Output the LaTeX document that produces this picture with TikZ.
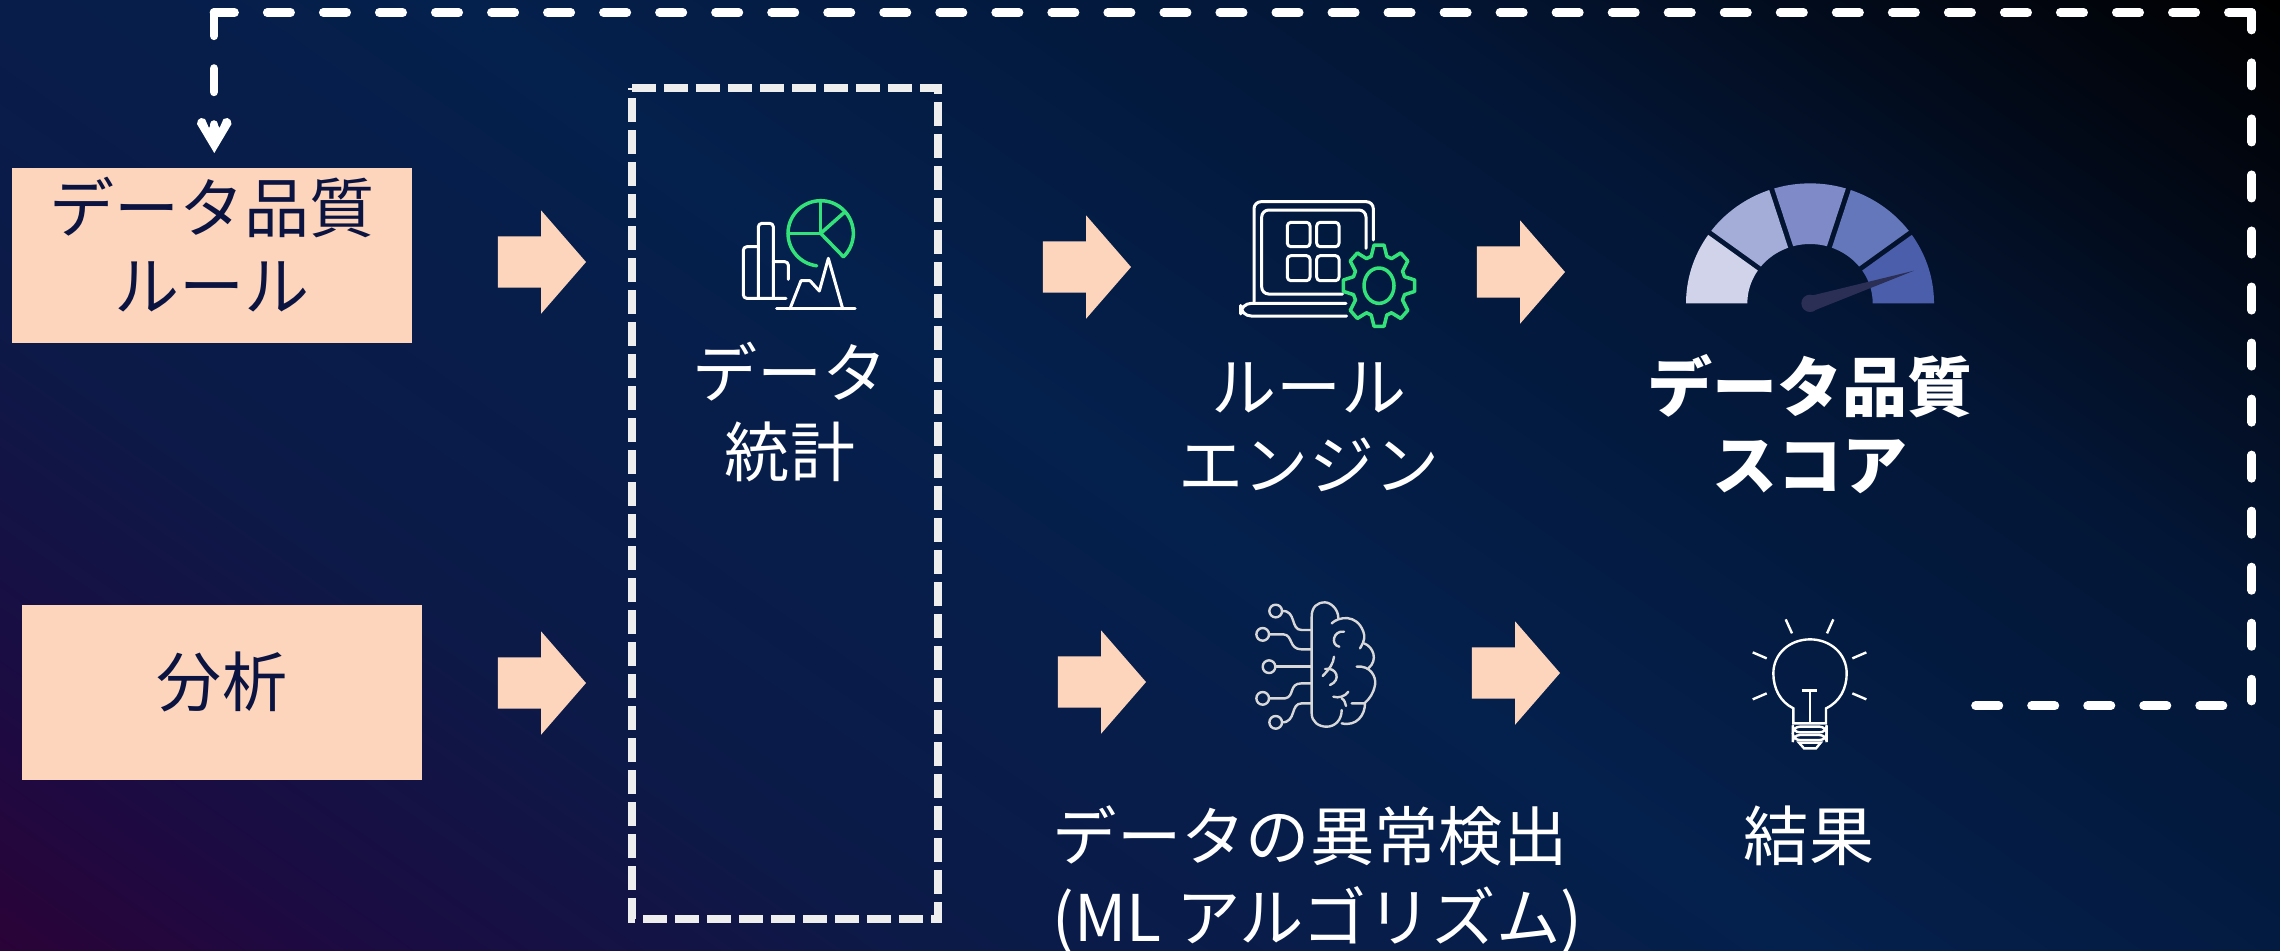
\documentclass[tikz,border=0pt]{standalone}
\usepackage{fontspec}
\usetikzlibrary{shapes.arrows}
\newfontfamily\jpfont{Noto Sans CJK JP}
\definecolor{bga}{HTML}{2A0338}
\definecolor{bgb}{HTML}{1C0B42}
\definecolor{bgc}{HTML}{0C1A48}
\definecolor{bgd}{HTML}{04204C}
\definecolor{bge}{HTML}{031636}
\definecolor{bgf}{HTML}{020814}
\definecolor{bgg}{HTML}{000000}
\definecolor{peach}{HTML}{FDD5BD}
\definecolor{inkblue}{HTML}{0B1440}
\definecolor{dashgray}{HTML}{EEEEEE}
\definecolor{icongreen}{HTML}{34E27A}
\definecolor{braingray}{HTML}{D8D8D8}
\definecolor{needle}{HTML}{2B2F55}
\pgfdeclarehorizontalshading{bgshade}{100bp}{color(0bp)=(bga); color(15.2bp)=(bga); color(22bp)=(bgb); color(33bp)=(bgc); color(50bp)=(bgd); color(67.7bp)=(bge); color(78.3bp)=(bgf); color(84.8bp)=(bgg); color(100bp)=(bgg)}
\tikzset{
  labeltext/.style={font=\jpfont\fontsize{18.5}{22.2}\selectfont,align=center,inner sep=0pt},
  whitetext/.style={labeltext,text=white},
  sourcebox/.style={fill=peach,inner sep=0pt,outer sep=0pt,minimum width=4cm,minimum height=1.75cm},
  boxtext/.style={labeltext,text=inkblue},
  blockarrow/.style={single arrow,anchor=tip,fill=peach,inner sep=0pt,outer sep=0pt,minimum height=.88cm,minimum width=1.02cm,single arrow head extend=.26cm,single arrow tip angle=98,single arrow head indent=0pt},
  whiteicon/.style={draw=white,line width=.03cm,line join=round,line cap=round},
  greenicon/.style={draw=icongreen,line width=.035cm,line join=round,line cap=round},
  brainicon/.style={draw=braingray,line width=.024cm,line join=round,line cap=round},
  bulbicon/.style={draw=white,line width=.024cm,line join=miter,line cap=butt},
  statsframe/.style={draw=dashgray,line width=.08cm,dash pattern=on .24cm off .08cm},
  feedback/.style={draw=white,line width=.087cm,line cap=round,line join=round,dash pattern=on .233cm off .327cm}
}
\newcommand{\gaugeseg}[5]{\fill[#5] plot[domain=#1:#2,samples=24] ({450+372*cos(\x)},{400+360*sin(\x)}) -- plot[domain=#4:#3,samples=24] ({450+188*cos(\x)},{400+178*sin(\x)}) -- cycle;}
\newcommand{\shaftrule}{\rule{0pt}{.5cm}}
\begin{document}
\begin{tikzpicture}[x=.01cm,y=-.01cm]
\useasboundingbox (0,0) rectangle (2280,950);
\shade[shading=bgshade,shading angle=55] (0,0) rectangle (2280,950);

% stats frame
\node[inner sep=0pt,outer sep=0pt,minimum width=3.06cm,minimum height=8.31cm] (stats) at (785,503.5) {};
\draw[statsframe] (stats.north west) -- (stats.north east) -- (stats.south east) -- (stats.south west) -- cycle;

% boxes
\node[sourcebox] (rules) at (212,255.5) {};
\node[boxtext] (rulestext) at (212,245) {データ品質\\ルール};
\node[sourcebox] (analysis) at (222,692.5) {};
\node[boxtext] (analysistext) at (222,682) {分析};

% block arrows
\node[blockarrow] (a1) at (586,262) {\shaftrule};
\node[blockarrow] (a2) at (586,683) {\shaftrule};
\node[blockarrow] (a3) at (1131,267) {\shaftrule};
\node[blockarrow] (a4) at (1565,272) {\shaftrule};
\node[blockarrow] (a5) at (1146,682) {\shaftrule};
\node[blockarrow] (a6) at (1560,673) {\shaftrule};

% labels
\node[whitetext] (l1) at (790,412) {データ\\統計};
\node[whitetext] (l2) at (1309,427) {ルール\\エンジン};
\node[whitetext,font=\jpfont\bfseries\fontsize{18.5}{22.2}\selectfont] (l3) at (1810,424) {データ品質\\スコア};
\node[whitetext,align=left,anchor=west,font=\jpfont\fontsize{18.3}{23}\selectfont] (l4) at (1052,880) {データの異常検出\\(ML アルゴリズム)};
\node[whitetext] (l5) at (1809,836) {結果};

% feedback connector
\coordinate (fbstart) at (1975.5,705.7);
\coordinate (fbrun) at (2228,705.7);
\coordinate (fbright) at (2251.7,701);
\coordinate (fbtopr) at (2251.7,12.5);
\coordinate (fbtopl) at (214,12.5);
\coordinate (fbtail) at (214,130);
\draw[feedback] (fbstart) -- (fbrun);
\draw[feedback,dash phase=.058cm] (fbtopr) -- (fbright);
\draw[feedback] (fbtopr) -- (fbtopl);
\draw[feedback] (fbtopl) -- (fbtail);
\fill[white] (214.3,153) -- (197,124) -- (198,120) -- (201,118) -- (205,119) -- (209,128) -- (211,124) -- (214.3,121) -- (217.5,124) -- (219.5,128) -- (223.5,119) -- (227.5,118) -- (230.5,120) -- (231.5,124) -- cycle;

% icon: statistics
\begin{scope}[shift={(700,170)},scale=1/3]
\draw[whiteicon,rounded corners=1pt] (258,385) -- (130,385) -- (130,230) -- (175,230);
\draw[whiteicon,rounded corners=1pt] (175,385) -- (175,160) -- (220,160) -- (220,385);
\draw[whiteicon,rounded corners=1pt] (220,275) -- (265,275) -- (265,328);
\draw[whiteicon] (230,416) -- (465,416);
\draw[whiteicon] (270,416) -- (303,332) -- (330,332) -- (358,363) -- (385,265) -- (428,416);
\draw[greenicon] plot[domain=97:406,samples=60] ({362+98*cos(\x)},{190+98*sin(\x)});
\draw[greenicon] (264,190) -- (362,190) -- (362,92);
\draw[greenicon] (362,190) -- (432,128);
\draw[greenicon] (362,190) -- (430,260);
\end{scope}

% icon: rule engine
\begin{scope}[shift={(1220,180)},scale=1/3]
\draw[whiteicon,rounded corners=2pt] (102,365) -- (102,65) -- (460,65) -- (460,180);
\draw[whiteicon,rounded corners=2pt] (368,342) -- (125,342) -- (125,90) -- (438,90) -- (438,205);
\draw[whiteicon,rounded corners=3pt] (378,370) -- (62,370) -- (62,408) -- (380,408);
\draw[whiteicon,rounded corners=1pt] (202,127) rectangle (270,200);
\draw[whiteicon,rounded corners=1pt] (290,127) rectangle (357,200);
\draw[whiteicon,rounded corners=1pt] (202,227) rectangle (270,302);
\draw[whiteicon,rounded corners=1pt] (290,227) rectangle (357,302);
\draw[greenicon] (477,317) ellipse [x radius=45,y radius=53];
\draw[greenicon] ({477+80*cos(-107)},{317+92*sin(-107)})
  \foreach \a in {-90,-45,0,45,90,135,180,225} {
    -- ({477+80*cos(\a-17)},{317+92*sin(\a-17)})
    -- ({477+108*cos(\a-8)},{317+123*sin(\a-8)})
    -- ({477+108*cos(\a+8)},{317+123*sin(\a+8)})
    -- ({477+80*cos(\a+17)},{317+92*sin(\a+17)})
  } -- cycle;
\end{scope}

% icon: gauge
\begin{scope}[shift={(1660,170)},scale=1/3]
\definecolor{ga}{HTML}{D0D3EA}
\definecolor{gb}{HTML}{A4ACD8}
\definecolor{gc}{HTML}{7E8BC8}
\definecolor{gd}{HTML}{6477BB}
\definecolor{ge}{HTML}{4A5EAB}
\gaugeseg{180}{214.8}{180}{213.6}{ga}
\gaugeseg{217.2}{250.8}{218.4}{249.6}{gb}
\gaugeseg{253.2}{286.8}{254.4}{285.6}{gc}
\gaugeseg{289.2}{322.8}{290.4}{321.6}{gd}
\gaugeseg{325.2}{360}{326.4}{360}{ge}
\fill[needle] (450,378) -- (762,302) -- (456,424) -- cycle;
\fill[needle] (450,400) circle [radius=26];
\end{scope}

% icon: brain
\begin{scope}[shift={(1230,590)},scale=1/3]
\draw[brainicon] (325,85) .. controls (325,55) and (300,37) .. (285,37) .. controls (262,37) and (245,50) .. (245,80) -- (245,370) .. controls (245,395) and (265,410) .. (290,410) .. controls (315,410) and (335,390) .. (335,360);
\draw[brainicon] (305,100) .. controls (325,80) and (380,70) .. (400,125) .. controls (405,140) and (405,150) .. (390,175);
\draw[brainicon] (402,160) .. controls (430,170) and (445,210) .. (415,235);
\draw[brainicon] (380,230) .. controls (420,225) and (440,260) .. (435,285) .. controls (430,310) and (420,325) .. (403,340) -- (365,340);
\draw[brainicon] (405,340) .. controls (405,375) and (380,410) .. (335,400);
\draw[brainicon] (342,125) .. controls (310,120) and (300,165) .. (328,170);
\draw[brainicon] (312,200) .. controls (310,220) and (300,235) .. (278,258);
\draw[brainicon] (285,237) .. controls (320,230) and (335,270) .. (300,285);
\draw[brainicon] (310,320) .. controls (325,325) and (345,320) .. (355,305);
\draw[brainicon] (335,325) .. controls (345,330) and (345,340) .. (348,348);
\draw[brainicon] (137,63) circle [radius=19];
\draw[brainicon] (156,63) .. controls (200,60) and (180,120) .. (215,120) -- (245,120);
\draw[brainicon] (98,133) circle [radius=19];
\draw[brainicon] (117,133) -- (160,133) .. controls (190,135) and (175,178) .. (215,178) -- (245,178);
\draw[brainicon] (117,230) circle [radius=19];
\draw[brainicon] (136,230) -- (245,230);
\draw[brainicon] (98,325) circle [radius=19];
\draw[brainicon] (117,325) -- (165,325) .. controls (195,320) and (175,280) .. (215,280) -- (245,280);
\draw[brainicon] (137,397) circle [radius=19];
\draw[brainicon] (156,397) .. controls (200,397) and (180,340) .. (215,340) -- (245,340);
\end{scope}

% icon: bulb
\begin{scope}[shift={(1730,600)},scale=1/3]
\draw[bulbicon] (190,370) -- (190,325) .. controls (150,305) and (130,265) .. (130,220) .. controls (130,160) and (180,118) .. (240,118) .. controls (300,118) and (350,160) .. (350,220) .. controls (350,265) and (330,305) .. (288,325) -- (288,370) -- cycle;
\draw[bulbicon] (215,271) -- (262,271);
\draw[bulbicon] (239,271) -- (239,370);
\draw[bulbicon,rounded corners=2pt] (188,380) rectangle (290,397);
\draw[bulbicon,rounded corners=2pt] (188,405) rectangle (290,420);
\draw[bulbicon] (207,428) -- (272,428) -- (258,445) -- (222,445) -- cycle;
\draw[bulbicon] (167,58) -- (186,100);
\draw[bulbicon] (310,58) -- (291,100);
\draw[bulbicon] (68,157) -- (110,175);
\draw[bulbicon] (409,157) -- (367,175);
\draw[bulbicon] (68,298) -- (110,280);
\draw[bulbicon] (409,298) -- (367,280);
\end{scope}
\end{tikzpicture}
\end{document}
